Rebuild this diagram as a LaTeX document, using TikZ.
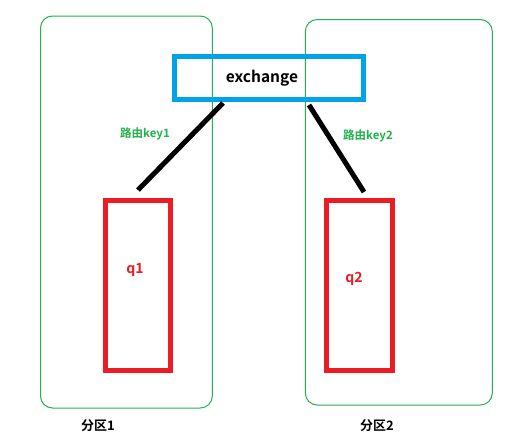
\documentclass[tikz,border=0pt]{standalone}
\usepackage{fontspec}
\setmainfont{Noto Sans CJK SC}[BoldFont={Noto Sans CJK SC Bold}]
\definecolor{pgreen}{RGB}{34,177,76}
\definecolor{pblue}{RGB}{0,162,232}
\definecolor{pred}{RGB}{237,28,36}
\begin{document}
\begin{tikzpicture}[x=1pt,y=-1pt,
  zone/.style={draw=pgreen,line width=1pt,rounded corners=12pt},
  exbox/.style={draw=pblue,line width=5pt},
  qbox/.style={draw=pred,line width=5pt},
  link/.style={draw=black,line width=5pt},
  lbl/.style={font=\bfseries\fontsize{11.5}{13}\selectfont,inner sep=0pt},
  big/.style={font=\bfseries\fontsize{15.5}{17}\selectfont},
  zlbl/.style={font=\bfseries\fontsize{13}{15}\selectfont},
  ]
\useasboundingbox (0,0) rectangle (510,442);
\fill[white] (0,0) rectangle (510,442);
\draw[zone] (40.5,16) rectangle (212.3,408);
\draw[zone] (305.3,19.5) rectangle (492.3,405);
\draw[exbox] (174.5,56.5) rectangle (363.2,99.8);
\node[lbl,big] (ex) at (262,78) {exchange};
\draw[qbox] (105.5,200.5) rectangle (170.5,370.5);
\draw[qbox] (326.5,200.5) rectangle (392.5,370.5);
\node[lbl,text=pred,font=\bfseries\fontsize{14}{16}\selectfont] (q1) at (135,270) {q1};
\node[lbl,text=pred,font=\bfseries\fontsize{14}{16}\selectfont] (q2) at (354,279) {q2};
\coordinate (a1) at (223,103);
\coordinate (b1) at (138,190);
\coordinate (a2) at (309,105);
\coordinate (b2) at (364,192);
\draw[link] (a1) -- (b1);
\draw[link] (a2) -- (b2);
\node[lbl,text=pgreen] (k1) at (145,134) {路由key1};
\node[lbl,text=pgreen] (k2) at (368,136) {路由key2};
\node[lbl,zlbl] (z1) at (98,426) {分区1};
\node[lbl,zlbl] (z2) at (377,426) {分区2};
\end{tikzpicture}
\end{document}
